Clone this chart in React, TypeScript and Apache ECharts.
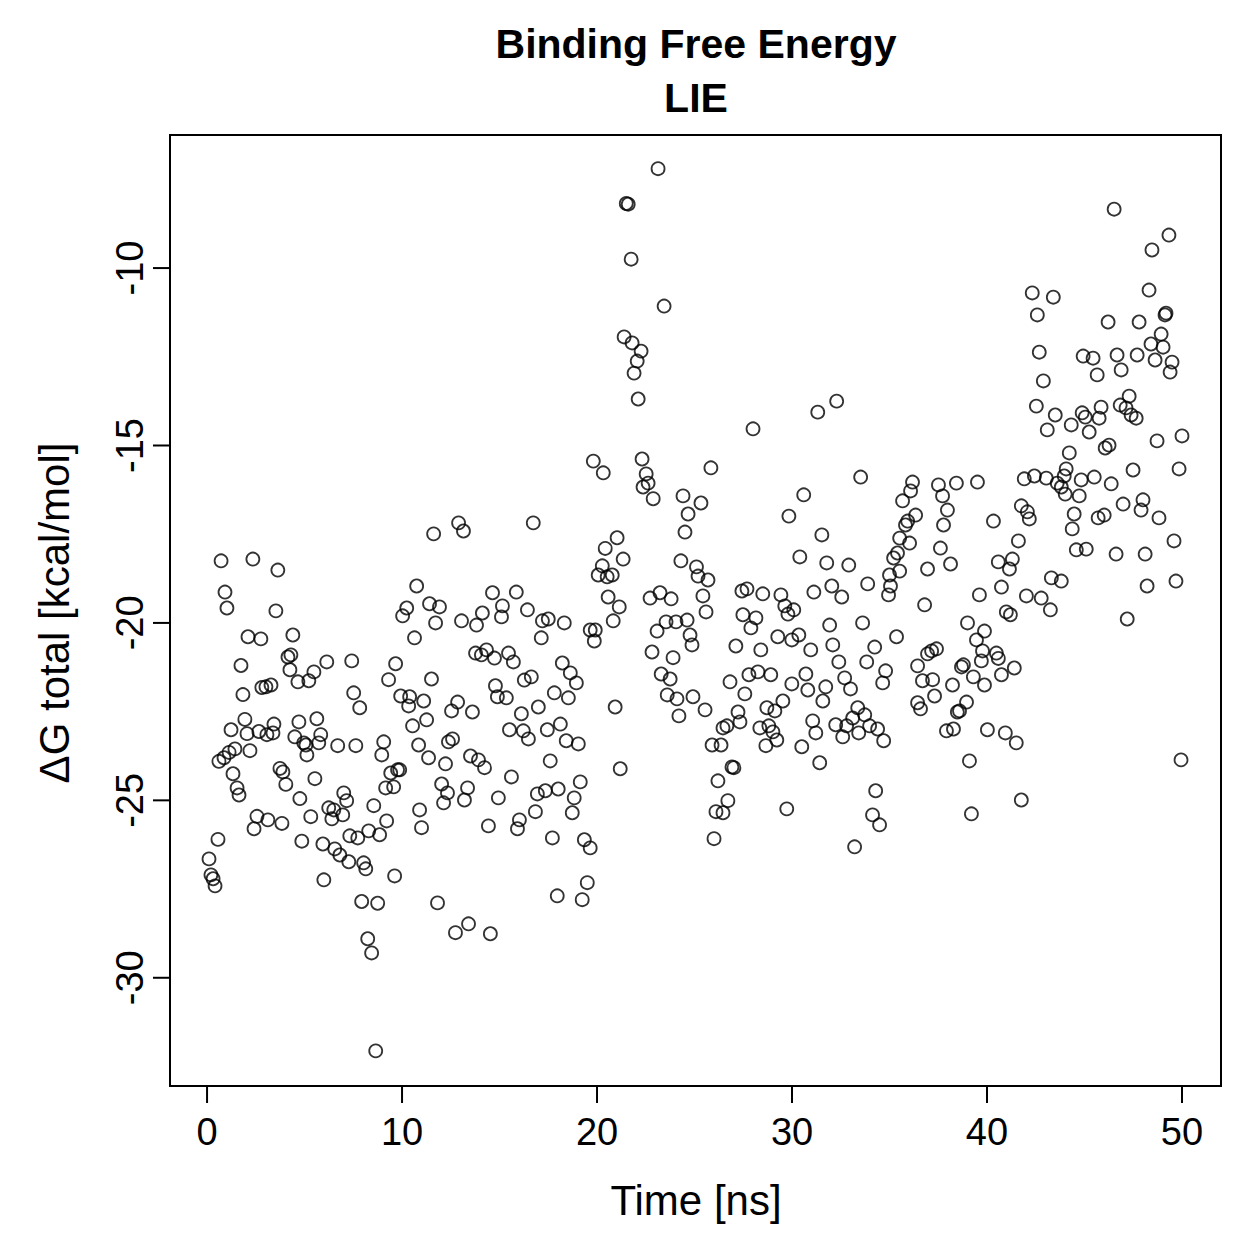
import React, { useEffect, useRef } from "react";
import * as echarts from "echarts";

// [time (ns), ΔG total (kcal/mol)], grouped by 10 ns windows
const window0to10: [number, number][] = [
  [0.1, -26.65], [0.2, -27.1], [0.31, -27.21], [0.41, -27.41], [0.56, -26.1], [0.61, -23.9],
  [0.72, -18.25], [0.87, -23.8], [0.92, -19.13], [1.02, -19.58], [1.13, -23.65], [1.23, -23.01],
  [1.33, -24.25], [1.43, -23.55], [1.54, -24.65], [1.64, -24.85], [1.74, -21.2], [1.84, -22.02],
  [1.94, -22.72], [2.05, -23.12], [2.1, -20.39], [2.2, -23.6], [2.35, -18.2], [2.41, -25.8],
  [2.56, -25.45], [2.66, -23.06], [2.76, -20.45], [2.81, -21.82], [3.02, -21.8], [3.07, -23.15],
  [3.12, -25.55], [3.28, -21.75], [3.38, -23.1], [3.43, -22.85], [3.53, -19.66], [3.63, -18.51],
  [3.74, -24.1], [3.84, -25.65], [3.89, -24.2], [4.04, -24.55], [4.15, -20.96], [4.25, -21.32],
  [4.3, -20.9], [4.4, -20.34], [4.5, -23.21], [4.66, -21.66], [4.71, -22.79], [4.76, -24.95],
  [4.86, -26.15], [4.96, -23.38],
  [5.07, -23.44], [5.12, -23.72], [5.22, -21.63], [5.32, -25.46], [5.48, -21.38], [5.53, -24.39],
  [5.63, -22.7], [5.73, -23.38], [5.83, -23.15], [5.94, -26.23], [5.99, -27.24], [6.14, -21.1],
  [6.24, -25.21], [6.4, -25.52], [6.5, -25.27], [6.55, -26.37], [6.7, -23.46], [6.81, -26.54],
  [6.96, -25.41], [7.01, -24.79], [7.16, -25.01], [7.27, -26.73], [7.32, -26.0], [7.42, -21.07],
  [7.52, -21.97], [7.63, -23.46], [7.73, -26.06], [7.83, -22.39], [7.93, -27.85], [8.03, -26.76],
  [8.14, -26.93], [8.24, -28.9], [8.29, -25.86], [8.44, -29.3], [8.55, -25.15], [8.65, -32.06],
  [8.75, -27.9], [8.85, -25.97], [8.96, -23.72], [9.06, -23.35], [9.16, -24.65], [9.21, -25.58],
  [9.31, -21.6], [9.42, -24.23], [9.57, -24.62], [9.62, -27.13], [9.67, -21.15], [9.77, -24.14],
  [9.88, -24.14], [9.93, -22.06],
];

const window10to20: [number, number][] = [
  [10.03, -19.8], [10.24, -19.58], [10.34, -22.34], [10.39, -22.08], [10.54, -22.9], [10.64, -20.42],
  [10.75, -18.96], [10.85, -23.44], [10.9, -25.27], [11.0, -25.77], [11.11, -22.2], [11.26, -22.73],
  [11.36, -23.8], [11.41, -19.46], [11.51, -21.58], [11.62, -17.49], [11.72, -20.0], [11.82, -27.89],
  [11.92, -19.55], [12.03, -24.54], [12.13, -25.07], [12.23, -23.97], [12.33, -24.79], [12.38, -23.35],
  [12.54, -22.48], [12.59, -23.27], [12.74, -28.73], [12.85, -22.23], [12.9, -17.18], [13.05, -19.94],
  [13.15, -17.41], [13.2, -24.99], [13.36, -24.65], [13.41, -28.48], [13.51, -23.75], [13.61, -22.51],
  [13.77, -20.85], [13.82, -20.06], [13.92, -23.86], [14.07, -20.9], [14.12, -19.72], [14.23, -24.08],
  [14.33, -20.76], [14.43, -25.72], [14.53, -28.76], [14.64, -19.15], [14.74, -20.99], [14.79, -21.77],
  [14.89, -22.08], [14.94, -24.93],
  [15.1, -19.83], [15.15, -19.52], [15.35, -22.11], [15.46, -20.85], [15.51, -23.01], [15.61, -24.34],
  [15.71, -21.1], [15.86, -19.13], [15.92, -25.8], [16.02, -25.55], [16.12, -22.56], [16.22, -23.04],
  [16.27, -21.61], [16.43, -19.63], [16.48, -23.27], [16.63, -21.52], [16.73, -17.18], [16.84, -25.32],
  [16.94, -24.82], [16.99, -22.37], [17.14, -20.42], [17.2, -19.94], [17.35, -24.73], [17.45, -23.01],
  [17.5, -19.89], [17.6, -23.89], [17.71, -26.06], [17.81, -21.97], [17.96, -27.69], [18.01, -24.68],
  [18.12, -22.85], [18.22, -21.13], [18.32, -20.0], [18.42, -23.32], [18.53, -22.11], [18.63, -21.41],
  [18.73, -25.35], [18.83, -24.93], [18.94, -21.69], [19.04, -23.41], [19.14, -24.48], [19.24, -27.8],
  [19.35, -26.11], [19.5, -27.32], [19.65, -26.34], [19.65, -20.2], [19.81, -15.44], [19.86, -20.51],
  [19.91, -20.2],
];

const window20to30: [number, number][] = [
  [20.06, -18.65], [20.27, -18.39], [20.32, -15.77], [20.42, -17.9], [20.52, -18.7], [20.57, -19.27],
  [20.78, -18.65], [20.83, -19.94], [20.93, -22.37], [21.03, -17.6], [21.14, -19.55], [21.19, -24.11],
  [21.34, -18.2], [21.39, -11.94], [21.5, -8.18], [21.6, -8.2], [21.75, -9.75], [21.8, -12.11],
  [21.9, -12.96], [22.06, -12.62], [22.11, -13.69], [22.26, -12.34], [22.31, -15.38], [22.36, -16.17],
  [22.52, -15.8], [22.62, -16.06], [22.72, -19.3], [22.82, -20.82], [22.88, -16.5], [23.08, -20.23],
  [23.13, -7.2], [23.23, -19.15], [23.29, -21.44], [23.44, -11.07], [23.54, -19.97], [23.6, -22.03],
  [23.75, -21.58], [23.8, -19.32], [23.9, -20.98], [24.05, -19.97], [24.1, -22.14], [24.2, -22.62],
  [24.3, -18.25], [24.41, -16.42], [24.51, -17.44], [24.62, -19.92], [24.67, -16.93], [24.77, -20.34],
  [24.87, -20.62], [24.92, -22.08],
  [25.1, -18.42], [25.18, -18.68], [25.33, -16.62], [25.43, -19.24], [25.54, -22.45], [25.59, -19.69],
  [25.69, -18.79], [25.84, -15.63], [25.9, -23.44], [26.0, -26.08], [26.1, -25.32], [26.2, -24.45],
  [26.36, -23.44], [26.46, -22.96], [26.46, -25.35], [26.66, -22.9], [26.71, -25.01], [26.82, -21.66],
  [26.92, -24.06], [27.02, -24.08], [27.12, -20.65], [27.23, -22.51], [27.33, -22.79], [27.43, -19.1],
  [27.48, -19.77], [27.58, -22.0], [27.69, -19.04], [27.79, -21.46], [27.89, -20.14], [28.0, -14.53],
  [28.15, -19.86], [28.25, -21.38], [28.35, -22.96], [28.4, -20.76], [28.5, -19.18], [28.66, -23.46],
  [28.71, -22.39], [28.81, -22.9], [28.91, -21.46], [29.02, -23.07], [29.12, -22.48], [29.22, -23.3],
  [29.27, -20.39], [29.43, -19.21], [29.53, -22.2], [29.63, -19.52], [29.73, -25.24], [29.79, -19.75],
  [29.84, -16.99], [29.99, -20.48], [29.99, -21.72],
];

const window30to40: [number, number][] = [
  [30.09, -19.63], [30.35, -20.34], [30.4, -18.14], [30.5, -23.49], [30.6, -16.39], [30.71, -21.44],
  [30.81, -21.89], [30.96, -20.76], [31.06, -22.76], [31.12, -19.13], [31.22, -23.1], [31.32, -14.06],
  [31.42, -23.94], [31.53, -17.52], [31.58, -22.2], [31.73, -21.8], [31.78, -18.31], [31.93, -20.06],
  [32.04, -18.96], [32.09, -20.62], [32.24, -22.87], [32.29, -13.75], [32.4, -21.1], [32.55, -19.27],
  [32.6, -23.21], [32.7, -21.55], [32.8, -22.9], [32.91, -18.37], [33.0, -21.86], [33.11, -22.68],
  [33.21, -26.31], [33.37, -22.39], [33.42, -23.1], [33.52, -15.89], [33.62, -20.0], [33.73, -22.59],
  [33.83, -21.1], [33.88, -18.9], [33.98, -22.9], [34.13, -25.41], [34.24, -20.68], [34.29, -24.73],
  [34.39, -22.99], [34.49, -25.69], [34.65, -21.69], [34.7, -23.32], [34.8, -21.35], [34.95, -19.21],
  [35.0, -18.65], [35.05, -18.96], [35.21, -18.17], [35.36, -20.39], [35.41, -18.03], [35.52, -17.61],
  [35.52, -18.54], [35.67, -16.56], [35.82, -17.24], [35.93, -17.13], [36.03, -17.75], [36.08, -16.28],
  [36.18, -16.03], [36.34, -16.96], [36.44, -21.21], [36.44, -22.25], [36.59, -22.42], [36.69, -21.63],
  [36.8, -19.49], [36.95, -18.48], [36.95, -20.87], [37.16, -20.79], [37.21, -21.6], [37.31, -22.06],
  [37.41, -20.73], [37.51, -16.11], [37.61, -17.89], [37.72, -16.42], [37.77, -17.24], [37.92, -23.04],
  [37.97, -16.82], [38.13, -18.34], [38.23, -21.75], [38.28, -22.99], [38.43, -16.06], [38.48, -22.51],
  [38.59, -22.48], [38.69, -21.24], [38.79, -21.18], [38.95, -22.23], [39.0, -20.0], [39.1, -23.89],
  [39.2, -25.38], [39.3, -21.52], [39.46, -20.48], [39.51, -16.03], [39.61, -19.21], [39.71, -21.07],
  [39.77, -20.79], [39.87, -20.23], [39.87, -21.75],
];

const window40to50: [number, number][] = [
  [40.02, -23.01], [40.33, -17.13], [40.48, -20.85], [40.58, -18.28], [40.58, -21.0], [40.74, -18.99],
  [40.74, -21.46], [40.94, -23.1], [40.99, -19.69], [41.15, -18.48], [41.2, -19.77], [41.3, -18.2],
  [41.4, -21.27], [41.5, -23.38], [41.61, -17.69], [41.76, -16.7], [41.76, -24.99], [41.91, -15.94],
  [42.02, -19.24], [42.07, -16.87], [42.17, -17.07], [42.32, -10.7], [42.43, -15.86], [42.53, -13.89],
  [42.58, -11.32], [42.68, -12.37], [42.78, -19.3], [42.89, -13.18], [43.04, -15.92], [43.09, -14.56],
  [43.25, -19.63], [43.3, -18.73], [43.4, -10.82], [43.5, -14.14], [43.6, -16.06], [43.81, -16.17],
  [43.81, -18.82], [43.96, -15.86], [44.01, -16.37], [44.06, -15.66], [44.22, -15.21], [44.32, -14.42],
  [44.37, -17.35], [44.47, -16.93], [44.58, -17.94], [44.73, -16.42], [44.83, -15.97], [44.88, -14.08],
  [44.93, -12.48], [45.04, -14.2],
  [45.09, -17.92], [45.24, -14.62], [45.44, -12.54], [45.5, -15.89], [45.65, -13.01], [45.7, -17.04],
  [45.75, -14.23], [45.85, -13.92], [46.01, -16.96], [46.06, -15.07], [46.21, -11.52], [46.26, -14.99],
  [46.37, -16.08], [46.52, -8.34], [46.62, -18.06], [46.67, -12.45], [46.83, -13.86], [46.88, -12.87],
  [46.98, -16.65], [47.13, -13.94], [47.19, -19.89], [47.29, -13.61], [47.39, -14.14], [47.49, -15.69],
  [47.65, -14.23], [47.7, -12.45], [47.8, -11.52], [47.9, -16.82], [48.0, -16.53], [48.11, -18.06],
  [48.21, -18.96], [48.31, -10.62], [48.41, -12.14], [48.46, -9.49], [48.62, -12.59], [48.72, -14.87],
  [48.82, -17.04], [48.93, -11.86], [49.03, -12.23], [49.13, -11.32], [49.18, -11.27], [49.33, -9.07],
  [49.39, -12.93], [49.49, -12.65], [49.59, -17.69], [49.69, -18.82], [49.85, -15.66], [49.95, -23.86],
  [50.0, -14.73],
];

const xTicks = [0, 10, 20, 30, 40, 50];
const yTicks = [-30, -25, -20, -15, -10];
// visible plot frame (R-style 4% padding around the data)
const xRange = [-1.9, 52.0];
const yRange = [-33.05, -6.25];
// the ECharts grid is extended 20 px left/below the frame so that the tick
// marks fall inside the grid area; these are the corresponding axis limits
const xAxisMin = -2.9257;
const yAxisMin = -33.6136;
const titleLines = ["Binding Free Energy", "LIE"];
const xAxisTitle = "Time [ns]";
const yAxisTitle = "ΔG total [kcal/mol]";

const FONT = '"Liberation Sans", Arial, Helvetica, sans-serif';
const TICK_LEN = 17;

export default function App() {
  const ref = useRef<HTMLDivElement>(null);

  useEffect(() => {
    if (!ref.current) return;
    const chart = echarts.init(ref.current, null, { renderer: "svg" });
    const data = [
      ...window0to10,
      ...window10to20,
      ...window20to30,
      ...window30to40,
      ...window40to50,
    ];
    chart.setOption({
      animation: false,
      backgroundColor: "#ffffff",
      textStyle: { fontFamily: FONT, color: "#000" },
      grid: {
        left: 150,
        top: 135,
        width: 1071,
        height: 971,
        show: false,
        containLabel: false,
        outerBoundsMode: "none",
      },
      xAxis: {
        type: "value",
        position: "bottom",
        min: xAxisMin,
        max: xRange[1],
        axisLine: { show: false, onZero: false },
        splitLine: { show: false },
        axisTick: { show: false },
        axisLabel: {
          customValues: xTicks,
          fontSize: 38,
          fontFamily: FONT,
          color: "#000",
          margin: 7,
        },
      },
      yAxis: {
        type: "value",
        position: "left",
        min: yAxisMin,
        max: yRange[1],
        axisLine: { show: false, onZero: false },
        splitLine: { show: false },
        axisTick: { show: false },
        axisLabel: {
          customValues: yTicks,
          rotate: 90,
          align: "center",
          verticalAlign: "middle",
          fontSize: 38,
          fontFamily: FONT,
          color: "#000",
          margin: 20,
        },
      },
      graphic: [
        {
          type: "text",
          x: 696,
          y: 44,
          style: {
            text: titleLines[0],
            fill: "#000",
            font: `bold 41px ${FONT}`,
            textAlign: "center",
            textVerticalAlign: "middle",
          },
        },
        {
          type: "text",
          x: 696,
          y: 98,
          style: {
            text: titleLines[1],
            fill: "#000",
            font: `bold 41px ${FONT}`,
            textAlign: "center",
            textVerticalAlign: "middle",
          },
        },
        {
          type: "text",
          x: 696,
          y: 1200,
          style: {
            text: xAxisTitle,
            fill: "#000",
            font: `42px ${FONT}`,
            textAlign: "center",
            textVerticalAlign: "middle",
          },
        },
        {
          type: "text",
          x: 54,
          y: 613,
          rotation: Math.PI / 2,
          style: {
            text: yAxisTitle,
            fill: "#000",
            font: `42px ${FONT}`,
            textAlign: "center",
            textVerticalAlign: "middle",
          },
        },
      ],
      series: [
        {
          type: "scatter",
          data,
          symbol: "circle",
          symbolSize: 13,
          itemStyle: { color: "transparent", borderColor: "#000", borderWidth: 1.8 },
          emphasis: { disabled: true },
          silent: true,
        },
        {
          // plot frame, from the frame limits through the axis scales
          type: "custom",
          silent: true,
          clip: false,
          encode: { x: [0, 2], y: [1, 3] },
          data: [[xRange[0], yRange[0], xRange[1], yRange[1]]],
          renderItem: (_p: any, api: any) => {
            const a = api.coord([api.value(0), api.value(1)]);
            const b = api.coord([api.value(2), api.value(3)]);
            return {
              type: "rect",
              shape: {
                x: Math.min(a[0], b[0]),
                y: Math.min(a[1], b[1]),
                width: Math.abs(b[0] - a[0]),
                height: Math.abs(b[1] - a[1]),
              },
              style: { fill: "none", stroke: "#000", lineWidth: 2 },
            };
          },
        },
        {
          // x-axis tick marks below the frame
          type: "custom",
          silent: true,
          clip: false,
          data: xTicks.map((v) => [v, yRange[0]]),
          renderItem: (_p: any, api: any) => {
            const p = api.coord([api.value(0), api.value(1)]);
            return {
              type: "line",
              shape: { x1: p[0], y1: p[1], x2: p[0], y2: p[1] + TICK_LEN },
              style: { stroke: "#000", lineWidth: 2 },
            };
          },
        },
        {
          // y-axis tick marks left of the frame
          type: "custom",
          silent: true,
          clip: false,
          data: yTicks.map((v) => [xRange[0], v]),
          renderItem: (_p: any, api: any) => {
            const p = api.coord([api.value(0), api.value(1)]);
            return {
              type: "line",
              shape: { x1: p[0], y1: p[1], x2: p[0] - TICK_LEN, y2: p[1] },
              style: { stroke: "#000", lineWidth: 2 },
            };
          },
        },
      ],
    });
    return () => chart.dispose();
  }, []);

  return (
    <div
      ref={ref}
      style={{ position: "fixed", left: 0, top: 0, width: 1259, height: 1259, background: "#fff" }}
    />
  );
}
